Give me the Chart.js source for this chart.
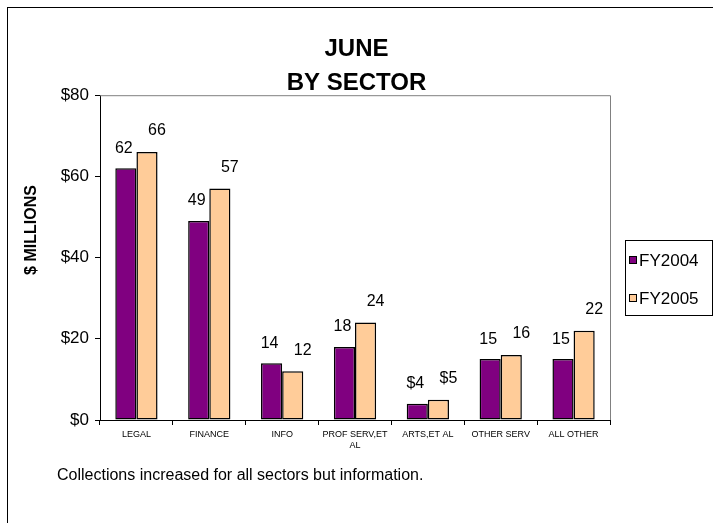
<!DOCTYPE html>
<html>
<head>
<meta charset="utf-8">
<script src="https://cdn.jsdelivr.net/npm/chart.js@4/dist/chart.umd.min.js"></script>
<style>
    html, body { margin: 0; padding: 0; background: #fff; overflow: hidden; }
    #wrap { position: relative; width: 713px; height: 523px; }
    #frame { position: absolute; left: 7px; top: 7px; width: 740px; height: 560px; border: 1px solid #000; }
    canvas { position: absolute; left: 0; top: 0; }
</style>
</head>
<body>
<div id="wrap">
    <div id="frame"></div>
    <canvas id="chart" width="713" height="523"></canvas>
</div>
<script>
const categories = ['LEGAL', 'FINANCE', 'INFO', ['PROF SERV,ET', 'AL'], 'ARTS,ET AL', 'OTHER SERV', 'ALL OTHER'];
const fy2004 = [62, 49, 14, 18, 4, 15, 15];
const fy2005 = [66, 57, 12, 24, 5, 16, 22];
const fy2004Labels = ['62', '49', '14', '18', '$4', '15', '15'];
const fy2005Labels = ['66', '57', '12', '24', '$5', '16', '22'];
const yTicks = [0, 20, 40, 60, 80];
const titleLines = ['JUNE', 'BY SECTOR'];
const yTitle = '$ MILLIONS';
const footnote = 'Collections increased for all sectors but information.';

const FONT = "'Liberation Sans', Arial, sans-serif";

// value labels above the bars, FY2005 ones sit a bit to the right like the original
const valueLabels = {
    id: 'valueLabels',
    afterDatasetsDraw(chart) {
        const ctx = chart.ctx;
        ctx.save();
        ctx.font = '16px ' + FONT;
        ctx.fillStyle = '#000';
        ctx.textAlign = 'center';
        ctx.textBaseline = 'bottom';
        chart.data.datasets.forEach((ds, i) => {
            const meta = chart.getDatasetMeta(i);
            const dx = i === 0 ? -2 : 10;
            const gap = i === 0 ? 12 : 13;
            meta.data.forEach((bar, j) => {
                ctx.fillText(ds.valueLabels[j], bar.x + dx, bar.y - gap);
            });
        });
        ctx.restore();
    }
};

// extras: grey plot border, rotated axis title, boxed legend, footnote
const extras = {
    id: 'extras',
    afterDraw(chart) {
        const ctx = chart.ctx;
        const a = chart.chartArea;
        ctx.save();
        ctx.strokeStyle = '#808080';
        ctx.lineWidth = 1;
        ctx.beginPath();
        ctx.moveTo(a.left, a.top + 0.5);
        ctx.lineTo(a.right + 0.5, a.top + 0.5);
        ctx.lineTo(a.right + 0.5, a.bottom);
        ctx.stroke();

        // y axis title
        ctx.save();
        ctx.translate(32, 230);
        ctx.rotate(-Math.PI / 2);
        ctx.font = 'bold 16px ' + FONT;
        ctx.fillStyle = '#000';
        ctx.textAlign = 'center';
        ctx.textBaseline = 'middle';
        ctx.fillText(yTitle, 0, 0);
        ctx.restore();

        // legend
        ctx.strokeStyle = '#000';
        ctx.strokeRect(625.5, 240.5, 87, 75);
        ctx.font = '17px ' + FONT;
        ctx.textAlign = 'left';
        ctx.textBaseline = 'middle';
        chart.data.datasets.forEach((ds, i) => {
            const y = 260 + i * 38;
            ctx.fillStyle = ds.backgroundColor;
            ctx.fillRect(629, y - 4, 8, 8);
            ctx.strokeRect(629.5, y - 3.5, 7, 7);
            ctx.fillStyle = '#000';
            ctx.fillText(ds.label, 639, y + 1);
        });

        // footnote
        ctx.font = '16px ' + FONT;
        ctx.fillText(footnote, 57, 476);
        ctx.restore();
    }
};

new Chart(document.getElementById('chart'), {
    type: 'bar',
    data: {
        labels: categories,
        datasets: [
            {
                label: 'FY2004',
                data: fy2004,
                valueLabels: fy2004Labels,
                backgroundColor: '#800080',
                borderColor: '#000',
                borderWidth: 1.5,
                borderSkipped: false
            },
            {
                label: 'FY2005',
                data: fy2005,
                valueLabels: fy2005Labels,
                backgroundColor: '#FFCC99',
                borderColor: '#000',
                borderWidth: 1.5,
                borderSkipped: false
            }
        ]
    },
    options: {
        responsive: false,
        animation: false,
        categoryPercentage: 0.58,
        barPercentage: 1.0,
        layout: { padding: 0 },
        plugins: {
            legend: { display: false },
            tooltip: { enabled: false },
            title: {
                display: true,
                text: titleLines,
                color: '#000',
                font: { family: FONT, size: 24, weight: 'bold', lineHeight: 1.4 },
                padding: { top: 33, bottom: -5 }
            }
        },
        scales: {
            x: {
                afterFit(scale) { scale.height = 103; },
                grid: { display: true, drawOnChartArea: false, color: '#000', tickLength: 5 },
                border: { color: '#000', width: 1 },
                ticks: {
                    color: '#000',
                    font: { family: FONT, size: 9 },
                    maxRotation: 0,
                    autoSkip: false,
                    padding: 4
                }
            },
            y: {
                min: 0,
                max: 80,
                afterFit(scale) { scale.width = 100; },
                afterBuildTicks(scale) { scale.ticks = yTicks.map(v => ({ value: v })); },
                grid: { display: true, drawOnChartArea: false, color: '#000', tickLength: 5 },
                border: { color: '#000', width: 1 },
                ticks: {
                    color: '#000',
                    font: { family: FONT, size: 17 },
                    padding: 6,
                    callback: v => '$' + v
                }
            },
            // empty right-hand axis that keeps room for the legend box
            side: {
                position: 'right',
                afterFit(scale) { scale.width = 103; },
                grid: { display: false },
                border: { display: false },
                ticks: { display: false }
            }
        }
    },
    plugins: [valueLabels, extras]
});
</script>
</body>
</html>
